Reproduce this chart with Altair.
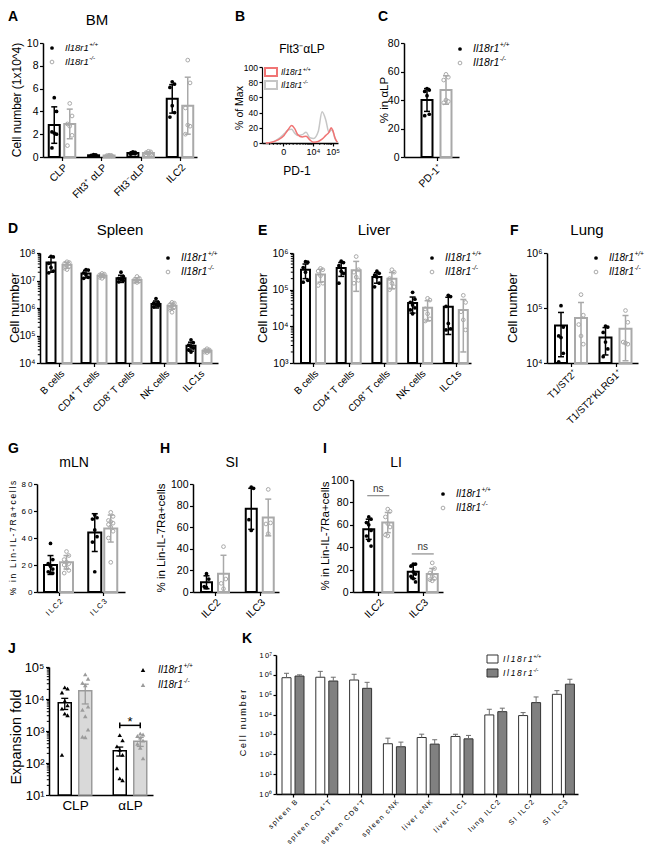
import json
import altair as alt
import pandas as pd

FONT = "Liberation Sans"
GREY = "#a9a9a9"
RED = "#f07474"
HGREY = "#c6c6c6"
THIN = "\u2009"
ONE = pd.DataFrame({"k": [0]})
WW, HH = 637, 840          # drawing size (page minus 8px margin)
M = 8                      # page margin
LOGLAB = "'10' + ['⁰','¹','²','³','⁴','⁵','⁶','⁷','⁸','⁹'][round(log(datum.value) / LN10)]"
LOGLAB_SP = "'1" + THIN + "0' + ['⁰','¹','²','³','⁴','⁵','⁶','⁷','⁸','⁹'][round(log(datum.value) / LN10)]"

# ---------------- data ----------------
# A  BM
A_cats = ["CLP", "Flt3⁺ αLP", "Flt3⁻αLP", "ILC2"]
A_wt_mean = [2.8, 0.15, 0.35, 5.1]
A_wt_sd = [1.6, 0.05, 0.1, 1.25]
A_ko_mean = [2.9, 0.13, 0.35, 4.5]
A_ko_sd = [1.3, 0.04, 0.12, 2.5]
A_wt_pts = [[5.2, 4.0, 2.2, 2.1, 2.0, 0.8], [0.2, 0.18, 0.15, 0.12, 0.1],
            [0.45, 0.4, 0.35, 0.3, 0.28, 0.25], [6.6, 6.4, 6.1, 4.5, 3.9, 3.5]]
A_ko_pts = [[4.7, 3.6, 2.9, 2.7, 1.9, 1.0], [0.15, 0.13, 0.12, 0.1, 0.1],
            [0.5, 0.45, 0.38, 0.3, 0.25, 0.2], [8.5, 6.5, 4.3, 2.8, 2.7, 2.0]]

# B  histogram (% of max vs PD-1, display units 0-100)
B_x = [5, 13, 21, 29, 34, 39, 43, 47, 53, 58, 63, 68, 74, 79, 84, 88, 91, 93, 96, 99]
B_wt = [0, 1, 4, 10, 17, 23, 19, 11, 8, 9, 4, 1, 2, 5, 10, 14, 20, 17, 7, 1]
B_ko = [0, 1, 5, 12, 17, 18, 13, 10, 11, 14, 7, 6, 15, 41, 30, 14, 17, 16, 6, 1]
B_tick_pos = [28, 67, 93]
B_tick_lab = ["0", "10⁴", "10⁵"]
B_minor = [10, 15, 20, 24, 32, 36, 41, 46, 50, 54, 57, 59.5, 61.5, 63, 64.5, 65.8, 76, 82, 85.5, 88, 90, 91.5]

# C
C_cats = ["PD-1⁺"]
C_wt_mean, C_wt_sd = [40], [8]
C_ko_mean, C_ko_sd = [47], [10]
C_wt_pts = [[48, 47, 46, 43, 30, 29]]
C_ko_pts = [[58, 56, 54, 40, 39, 38]]

# D  Spleen
D_cats = ["B cells", "CD4⁺ T cells", "CD8⁺ T cells", "NK cells", "ILC1s"]
D_wt_mean = [4.5e7, 1.8e7, 1.2e7, 1.4e6, 4.2e4]
D_wt_sd = [2.5e7, 0.55e7, 0.35e7, 0.4e6, 1.5e4]
D_ko_mean = [3.7e7, 1.5e7, 1.05e7, 1.2e6, 2.8e4]
D_ko_sd = [0.9e7, 0.2e7, 0.2e7, 0.3e6, 0.3e4]
D_wt_pts = [[7.6e7, 7.2e7, 4.2e7, 3.0e7, 2.2e7, 1.9e7], [2.5e7, 2.4e7, 1.9e7, 1.6e7, 1.3e7, 1.2e7],
            [2.0e7, 1.4e7, 1.2e7, 1.1e7, 1.0e7, 0.9e7], [2.2e6, 1.6e6, 1.5e6, 1.3e6, 1.2e6, 1.1e6],
            [7e4, 5.5e4, 4.5e4, 4e4, 3.5e4, 3e4, 2.5e4]]
D_ko_pts = [[4.8e7, 4.5e7, 4.2e7, 3.6e7, 3.2e7, 2.8e7, 2.5e7], [1.8e7, 1.7e7, 1.6e7, 1.5e7, 1.4e7, 1.3e7, 1.2e7],
            [1.4e7, 1.2e7, 1.1e7, 1.0e7, 0.95e7, 0.9e7, 0.85e7], [1.6e6, 1.5e6, 1.3e6, 1.2e6, 1.1e6, 0.9e6, 0.7e6],
            [3.3e4, 3.0e4, 2.9e4, 2.8e4, 2.7e4, 2.5e4, 2.4e4]]

# E  Liver
E_cats = ["B cells", "CD4⁺ T cells", "CD8⁺ T cells", "NK cells", "ILC1s"]
E_wt_mean = [3.5e5, 3.9e5, 2.2e5, 4.3e4, 3.4e4]
E_wt_sd = [1.5e5, 1.6e5, 0.7e5, 2.0e4, 2.8e4]
E_ko_mean = [2.6e5, 3.4e5, 2.0e5, 3.2e4, 2.8e4]
E_ko_sd = [1.0e5, 2.5e5, 0.95e5, 1.8e4, 2.6e4]
E_wt_pts = [[5.8e5, 5.6e5, 4.0e5, 3.0e5, 1.8e5, 1.6e5], [6e5, 5.5e5, 4.5e5, 3.2e5, 2.8e5, 1.5e5],
            [3.2e5, 2.8e5, 2.5e5, 2.2e5, 1.5e5, 1.2e5], [8.5e4, 5.5e4, 4.5e4, 3.8e4, 3.2e4, 2.8e4, 2.2e4],
            [7e4, 6.5e4, 3.5e4, 1.2e4, 8.5e3, 8e3]]
E_ko_pts = [[3.8e5, 3.5e5, 3.2e5, 2.4e5, 1.5e5, 1.3e5], [8e5, 3.5e5, 3e5, 2.2e5, 1.8e5, 1.5e5],
            [3.5e5, 3e5, 2e5, 1.5e5, 1.2e5, 1.0e5], [5.8e4, 5.2e4, 3e4, 2.2e4, 1.6e4, 1.4e4],
            [7e4, 4.5e4, 2.5e4, 1.5e4, 8e3]]

# F  Lung
F_cats = ["T1/ST2⁺", "T1/ST2⁺KLRG1⁺"]
F_wt_mean, F_wt_sd = [4.8e4, 2.9e4], [3.5e4, 1.5e4]
F_ko_mean, F_ko_sd = [6.6e4, 4.2e4], [6e4, 3.1e4]
F_wt_pts = [[1.1e5, 4.5e4, 3.1e4, 2.9e4, 1.5e4, 1.05e4], [4.7e4, 4.5e4, 3.6e4, 2.4e4, 1.8e4, 1.3e4]]
F_ko_pts = [[1.75e5, 7.4e4, 5e4, 3.1e4, 2.2e4], [9e4, 5.5e4, 2.4e4, 2.3e4, 2.2e4]]

# G  mLN
G_cats = ["ILC2", "ILC3"]
G_wt_mean, G_wt_sd = [20, 44], [7, 14]
G_ko_mean, G_ko_sd = [22, 47], [5, 10]
G_wt_pts = [[36, 24, 21, 19, 17, 15, 14, 14], [57, 55, 54, 46, 41, 37, 15]]
G_ko_pts = [[30, 27, 24, 22, 21, 20, 18, 16, 14], [59, 56, 53, 52, 51, 50, 48, 45, 40, 22]]

# H  SI
H_cats = ["ILC2", "ILC3"]
H_wt_mean, H_wt_sd = [9, 77], [6, 19]
H_ko_mean, H_ko_sd = [17, 69], [17, 17]
H_wt_pts = [[17, 12, 5, 4], [97, 96, 67, 57]]
H_ko_pts = [[42, 12, 8, 3], [95, 64, 63, 54]]

# I  LI
I_cats = ["ILC2", "ILC3"]
I_wt_mean, I_wt_sd = [56, 18], [9, 6]
I_ko_mean, I_ko_sd = [62, 16], [9, 5]
I_wt_pts = [[67, 65, 62, 60, 55, 50, 46, 41], [25, 25, 23, 18, 16, 14, 12, 9]]
I_ko_pts = [[74, 72, 67, 61, 58, 51, 50], [26, 21, 17, 14, 12, 11, 10]]
I_ns_y = [86, 34]

# J  Expansion fold
J_cats = ["CLP", "αLP"]
J_wt_mean, J_wt_sem = [7.6e3, 240], [2.9e3, 75]
J_ko_mean, J_ko_sem = [1.8e4, 480], [1.1e4, 150]
J_wt_pts = [[2.3e4, 2.1e4, 1.6e4, 8.7e3, 6.3e3, 5e3, 3.5e3, 3.1e3, 180], [740, 510, 330, 260, 180, 68, 33, 29]]
J_ko_pts = [[5.9e4, 4.3e4, 3.2e4, 2.7e4, 5.8e3, 4.6e3, 2.9e3, 1.1e3, 660, 640],
            [830, 780, 700, 620, 500, 400, 300, 140]]
J_sig_y = [1500]

# K
K_cats = ["spleen B", "spleen CD4⁺T", "spleen CD8⁺T", "spleen cNK", "liver cNK",
          "liver ILC1", "lung ILC2", "SI ILC2", "SI ILC3"]
K_wt_mean = [7.2e5, 7.6e5, 5.5e5, 340, 700, 790, 9.6e3, 8.9e3, 1.05e5]
K_wt_err = [4.8e5, 7.4e5, 5.2e5, 310, 330, 230, 8.9e3, 3.7e3, 5.5e4]
K_ko_mean = [8.7e5, 4.9e5, 2.1e5, 240, 325, 600, 1.4e4, 4e4, 3.4e5]
K_ko_err = [1.3e5, 2.7e5, 2.1e5, 170, 215, 290, 7e3, 3.7e4, 2.6e5]


# ---------------- helpers (coordinates given in page pixels) ----------------
def spaced(s):
    return THIN.join(list(s))


def T(x, y, s, size=11, bold=False, italic=False, angle=0, align="left",
      baseline="alphabetic", color="black"):
    kw = dict(text=s, fontSize=size, font=FONT, align=align, baseline=baseline, color=color)
    if bold:
        kw["fontWeight"] = "bold"
    if italic:
        kw["fontStyle"] = "italic"
    if angle:
        kw["angle"] = angle
    return alt.Chart(ONE).mark_text(**kw).encode(x=alt.value(x - M), y=alt.value(y - M))


def R(x1, x2, y1, y2, fill, stroke, sw):
    return (alt.Chart(ONE).mark_rect(fill=fill, stroke=stroke, strokeWidth=sw)
            .encode(x=alt.value(x1 - M), x2=alt.value(x2 - M), y=alt.value(y1 - M), y2=alt.value(y2 - M)))


def axis(**kw):
    base = dict(title=None, grid=False, domainColor="black", domainWidth=1.5,
                tickColor="black", tickWidth=1.2, tickSize=3.5, labelFont=FONT,
                labelColor="black", labelPadding=1.5, labelOverlap=False, labelFlush=False)
    base.update(kw)
    return alt.Axis(**base)


def geno_label(x, y, sup, size, sp=False):
    main = "Il18r1"
    w = 2.501 * size
    if sp:
        main = spaced(main)
        w += 5 * 0.2 * size
    return [T(x, y, main, size, italic=True, baseline="middle"),
            T(x + w + 0.4, y - size * 0.4, sup, size * 0.65, italic=True, baseline="middle")]


def marker_legend(x, y, dy, size, shape="circle", msize=14, ko_filled=False, gap=13, ko_col=GREY):
    out = [alt.Chart(ONE).mark_point(shape=shape, filled=True, size=msize, color="black", opacity=1)
           .encode(x=alt.value(x - M), y=alt.value(y - M)),
           alt.Chart(ONE).mark_point(shape=shape, filled=ko_filled, size=msize, color=ko_col,
                                     strokeWidth=1, opacity=1)
           .encode(x=alt.value(x - M), y=alt.value(y + dy - M))]
    out += geno_label(x + gap, y, "+/+", size)
    out += geno_label(x + gap, y + dy, "-/-", size)
    return out


def cat_expr(cats, sp=False):
    e = f"{json.dumps(cats, ensure_ascii=False)}[datum.value]"
    if sp:
        e = f"join(split({e}, ''), '{THIN}')"
    return e


def bar_panel(cats, wm, ws, km, ks, wp=None, kp=None, *, x0, y0, w, h, c0, u, bw, off,
              ydom, ylog, yvals, ylab_size=10.5, xlab_size=10.5, ylab_expr=None,
              xlab_sp=False, xangle=-45, minor=None,
              psize=14, jit=2.3, cap=3.0, shape="circle", ko_filled=False,
              wt_fill=None, ko_fill=None, wt_col="black", ko_col=GREY, bar_sw=2.0,
              err_sw=1.5, err_cols=None, upper_only=False, tick_size=3.5, xlab_pad=1.5,
              xtick=True):
    n = len(cats)
    bars = pd.DataFrame([dict(ci=i, g=g, m=(wm if g == 0 else km)[i], s=(ws if g == 0 else ks)[i])
                         for i in range(n) for g in (0, 1)])
    OFF, HB, CP, JT = off / u, bw / u / 2, cap / u, jit / u
    left, right, top, bottom = x0 - M, x0 + w - M, y0 - M, y0 + h - M
    xs = alt.Scale(domain=[-c0 / u, (w - c0) / u], range=[left, right], nice=False, zero=False)
    if ylog:
        ys = alt.Scale(type="log", domain=ydom, range=[bottom, top], nice=False)
    else:
        ys = alt.Scale(domain=ydom, range=[bottom, top], nice=False, zero=False)
    xkw = dict(orient="bottom", offset=bottom - HH, values=list(range(n)),
               labelExpr=cat_expr(cats, xlab_sp), labelFontSize=xlab_size,
               tickSize=tick_size if xtick else 0, labelPadding=xlab_pad)
    if xangle:
        xkw.update(labelAngle=xangle, labelAlign="right", labelBaseline="top")
    else:
        xkw.update(labelAngle=0, labelAlign="center", labelBaseline="top")
    xax = axis(**xkw)
    ykw = dict(orient="left", offset=-left, values=yvals, labelFontSize=ylab_size, tickSize=tick_size)
    if ylab_expr:
        ykw["labelExpr"] = ylab_expr
    elif ylog:
        ykw["labelExpr"] = LOGLAB
    yax = axis(**ykw)

    def X(f):
        return alt.X(f, scale=xs, axis=xax)

    def Y(f):
        return alt.Y(f, scale=ys, axis=yax)

    base = alt.Chart(bars).transform_calculate(
        pos=f"datum.ci + (datum.g * 2 - 1) * {OFF}"
    ).transform_calculate(
        xl=f"datum.pos - {HB}", xr=f"datum.pos + {HB}",
        cl=f"datum.pos - {CP}", cr=f"datum.pos + {CP}",
        hi="datum.m + datum.s", lo=f"max(datum.m - datum.s, {ydom[0]})", b0=f"{ydom[0]}")
    layers = []
    for g in (0, 1):
        col = wt_col if g == 0 else ko_col
        fill = wt_fill if g == 0 else ko_fill
        mk = dict(stroke=col, strokeWidth=bar_sw)
        if fill:
            mk["fill"] = fill
        else:
            mk["fillOpacity"] = 0
        bb = base.transform_filter(f"datum.g == {g}")
        layers.append(bb.mark_rect(**mk).encode(x=X("xl:Q"), x2="xr:Q", y=Y("m:Q"), y2="b0:Q"))
    for g in (0, 1):
        ecol = (err_cols or (wt_col, ko_col))[g]
        bb = base.transform_filter(f"datum.g == {g}")
        layers.append(bb.mark_rule(color=ecol, strokeWidth=err_sw)
                      .encode(x=X("pos:Q"), y=Y("m:Q" if upper_only else "lo:Q"), y2="hi:Q"))
        layers.append(bb.mark_rule(color=ecol, strokeWidth=err_sw)
                      .encode(x=X("cl:Q"), x2="cr:Q", y=Y("hi:Q")))
        if not upper_only:
            layers.append(bb.mark_rule(color=ecol, strokeWidth=err_sw)
                          .encode(x=X("cl:Q"), x2="cr:Q", y=Y("lo:Q")))
    if wp is not None:
        pts = pd.DataFrame([dict(ci=i, g=g, v=v) for i in range(n) for g in (0, 1)
                            for v in (wp if g == 0 else kp)[i]])
        for g in (0, 1):
            col = wt_col if g == 0 else ko_col
            pp = (alt.Chart(pts).transform_filter(f"datum.g == {g}")
                  .transform_window(r="row_number()", groupby=["ci"],
                                    sort=[alt.SortField("v", order="descending")])
                  .transform_calculate(px=f"datum.ci + (datum.g * 2 - 1) * {OFF} + ((datum.r % 3) - 1) * {JT}"))
            layers.append(pp.mark_point(shape=shape, filled=(g == 0) or ko_filled, color=col,
                                        size=psize, strokeWidth=1, opacity=1)
                          .encode(x=X("px:Q"), y=Y("v:Q")))
    if minor:
        mdf = pd.DataFrame({"v": minor})
        layers.append(alt.Chart(mdf).mark_rule(color="black", strokeWidth=1)
                      .encode(x=alt.value(left - 2.2), x2=alt.value(left), y=Y("v:Q")))
    return dict(layers=layers, X=X, Y=Y, OFF=OFF, u=u)


def log_minor(k0, k1):
    return [m * 10 ** k for k in range(k0, k1) for m in range(2, 10)]


def decades(k0, k1):
    return [10 ** k for k in range(k0, k1 + 1)]


# ---------------- panels ----------------
# A
pA = bar_panel(A_cats, A_wt_mean, A_wt_sd, A_ko_mean, A_ko_sd, A_wt_pts, A_ko_pts,
               x0=43, y0=43, w=154, h=114, c0=19, u=39.33, bw=11, off=7.75, ydom=[0, 10], ylog=False,
               yvals=[0, 2, 4, 6, 8, 10], ylab_size=10.5, xlab_size=10.5)
A = alt.layer(*pA["layers"], T(8, 21, "A", 14, bold=True), T(97, 25, "BM", 15, align="center"),
              T(17, 100, "Cell number (1x10^4)", 12, angle=270, align="center", baseline="middle"),
              *marker_legend(52, 48, 14, 9.5))

# B
bdf = pd.DataFrame({"x": B_x * 2, "y": B_ko + B_wt,
                    "g": [1] * len(B_x) + [0] * len(B_x)})
bx0, by0, bw_, bh_ = 262, 67, 76, 76
bxs = alt.Scale(domain=[0, 100], range=[bx0 - M, bx0 + bw_ - M], nice=False, zero=False)
bys = alt.Scale(domain=[0, 100], range=[by0 + bh_ - M, by0 - M], nice=False, zero=False)
bxax = axis(orient="bottom", offset=by0 + bh_ - M - HH, values=B_tick_pos, labelFontSize=9,
            labelAngle=0, tickSize=3,
            labelExpr=f"{json.dumps(B_tick_lab, ensure_ascii=False)}[indexof({json.dumps(B_tick_pos)}, datum.value)]")
byax = axis(orient="left", offset=-(bx0 - M), values=[0, 20, 40, 60, 80, 100], labelFontSize=8.5,
            tickSize=3, domainWidth=1.2)
B = alt.layer(
    alt.Chart(bdf).transform_filter("datum.g == 1")
    .mark_line(color=HGREY, strokeWidth=1.5, interpolate="monotone")
    .encode(x=alt.X("x:Q", scale=bxs, axis=bxax), y=alt.Y("y:Q", scale=bys, axis=byax)),
    alt.Chart(bdf).transform_filter("datum.g == 0")
    .mark_line(color=RED, strokeWidth=1.5, interpolate="monotone")
    .encode(x=alt.X("x:Q", scale=bxs, axis=bxax), y=alt.Y("y:Q", scale=bys, axis=byax)),
    alt.Chart(pd.DataFrame({"v": B_minor})).mark_rule(color="black", strokeWidth=0.8)
    .encode(x=alt.X("v:Q", scale=bxs, axis=bxax), y=alt.value(by0 + bh_ - M), y2=alt.value(by0 + bh_ - M + 2)),
    R(265, 277, 68, 76, "white", RED, 2),
    R(265, 277, 81, 89, "white", HGREY, 2),
    T(235, 21, "B", 14, bold=True),
    T(302, 53, "Flt3⁻αLP", 12, align="center"),
    T(240, 108, "% of Max", 10.5, angle=270, align="center", baseline="middle"),
    T(297, 175, "PD-1", 12, align="center"),
    *geno_label(281, 72, "+/+", 8.5), *geno_label(281, 85, "-/-", 8.5),
)

# C
pC = bar_panel(C_cats, C_wt_mean, C_wt_sd, C_ko_mean, C_ko_sd, C_wt_pts, C_ko_pts,
               x0=404, y0=43, w=55, h=114, c0=32.5, u=40, bw=11, off=9.5, ydom=[0, 80], ylog=False,
               yvals=[0, 20, 40, 60, 80], ylab_size=10.5, xlab_size=10.5)
C = alt.layer(*pC["layers"], T(378, 21, "C", 14, bold=True),
              T(385, 100, "% in αLP", 11.5, angle=270, align="center", baseline="middle"),
              *marker_legend(460, 49, 14, 10.5))

# D
pD = bar_panel(D_cats, D_wt_mean, D_wt_sd, D_ko_mean, D_ko_sd, D_wt_pts, D_ko_pts,
               x0=40, y0=253, w=178, h=110, c0=19, u=35, bw=9, off=8, ydom=[1e4, 1e8], ylog=True,
               yvals=decades(4, 8), minor=log_minor(4, 8), xlab_size=10)
D = alt.layer(*pD["layers"], T(8, 233, "D", 14, bold=True), T(120, 235, "Spleen", 15, align="center"),
              T(15, 308, "Cell number", 13, angle=270, align="center", baseline="middle"),
              *marker_legend(168, 258, 14, 10.5))

# E
pE = bar_panel(E_cats, E_wt_mean, E_wt_sd, E_ko_mean, E_ko_sd, E_wt_pts, E_ko_pts,
               x0=293, y0=253, w=178, h=110, c0=20, u=35.7, bw=9, off=7.5, ydom=[1e3, 1e6], ylog=True,
               yvals=decades(3, 6), minor=log_minor(3, 6), xlab_size=10)
E = alt.layer(*pE["layers"], T(258, 235, "E", 14, bold=True), T(374, 235, "Liver", 15, align="center"),
              T(263, 308, "Cell number", 13, angle=270, align="center", baseline="middle"),
              *marker_legend(432, 258, 14, 10.5))

# F
pF = bar_panel(F_cats, F_wt_mean, F_wt_sd, F_ko_mean, F_ko_sd, F_wt_pts, F_ko_pts,
               x0=547, y0=253, w=91, h=110, c0=24, u=44.5, bw=12, off=10, ydom=[1e4, 1e6], ylog=True,
               yvals=decades(4, 6), xlab_size=10)
F = alt.layer(*pF["layers"], T(510, 235, "F", 14, bold=True), T(587, 235, "Lung", 15, align="center"),
              T(513, 308, "Cell number", 13, angle=270, align="center", baseline="middle"),
              *marker_legend(596, 258, 14, 10))

# G
pG = bar_panel(G_cats, G_wt_mean, G_wt_sd, G_ko_mean, G_ko_sd, G_wt_pts, G_ko_pts,
               x0=37, y0=484, w=88, h=108, c0=21.5, u=44.25, bw=13, off=8, ydom=[0, 80], ylog=False,
               yvals=[0, 20, 40, 60, 80], ylab_size=8, xlab_size=7.5, xlab_sp=True,
               ylab_expr="join(split(datum.label, ''), ' ')")
G = alt.layer(*pG["layers"], T(8, 453, "G", 14, bold=True), T(74, 467, "mLN", 14, align="center"),
              T(13, 538, spaced("% in Lin-IL-7Ra+cells"), 8.5, angle=270, align="center", baseline="middle"))

# H
pH = bar_panel(H_cats, H_wt_mean, H_wt_sd, H_ko_mean, H_ko_sd, H_wt_pts, H_ko_pts,
               x0=193, y0=484, w=86, h=108, c0=22, u=44.75, bw=11, off=8.5, ydom=[0, 100], ylog=False,
               yvals=[0, 20, 40, 60, 80, 100], ylab_size=10.5, xlab_size=10.5)
H = alt.layer(*pH["layers"], T(160, 453, "H", 14, bold=True), T(232, 467, "SI", 14, align="center"),
              T(162, 538, "% in Lin-IL-7Ra+cells", 11.5, angle=270, align="center", baseline="middle"))

# I
pI = bar_panel(I_cats, I_wt_mean, I_wt_sd, I_ko_mean, I_ko_sd, I_wt_pts, I_ko_pts,
               x0=353, y0=480, w=90, h=112, c0=25.25, u=44.5, bw=11, off=9.5, ydom=[0, 100], ylog=False,
               yvals=[0, 20, 40, 60, 80, 100], ylab_size=10.5, xlab_size=10.5)
nsdf = pd.DataFrame({"ci": list(range(len(I_ns_y))), "y": I_ns_y})
NSW = 11 / pI["u"]
I = alt.layer(
    *pI["layers"],
    alt.Chart(nsdf).transform_calculate(a=f"datum.ci - {NSW}", b=f"datum.ci + {NSW}")
    .mark_rule(color="#8c8c8c", strokeWidth=1.2).encode(x=pI["X"]("a:Q"), x2="b:Q", y=pI["Y"]("y:Q")),
    alt.Chart(nsdf).mark_text(text="ns", fontSize=10, font=FONT, color="#333333", align="center",
                              baseline="alphabetic", dy=-4)
    .encode(x=pI["X"]("ci:Q"), y=pI["Y"]("y:Q")),
    T(323, 453, "I", 14, bold=True), T(396, 467, "LI", 14, align="center"),
    T(326, 536, "% in Lin-IL-7Ra+cells", 11.5, angle=270, align="center", baseline="middle"),
    *marker_legend(443, 494, 14, 10))

# J
pJ = bar_panel(J_cats, J_wt_mean, J_wt_sem, J_ko_mean, J_ko_sem, J_wt_pts, J_ko_pts,
               x0=49, y0=667, w=104, h=128, c0=26, u=55, bw=13, off=10.25, ydom=[10, 1e5], ylog=True,
               yvals=decades(1, 5), minor=log_minor(1, 5), ylab_size=13, xlab_size=13.5,
               xangle=0, psize=20, jit=2.8, cap=3.5, shape="triangle-up",
               ko_filled=True, wt_fill="white", ko_fill="#d9d9d9", wt_col="black",
               ko_col="#9b9b9b", bar_sw=1.5, err_sw=1.3, xlab_pad=3, xtick=False)
sigdf = pd.DataFrame({"ci": [1] * len(J_sig_y), "y": J_sig_y})
JO = pJ["OFF"]
J = alt.layer(
    *pJ["layers"],
    alt.Chart(sigdf).transform_calculate(a=f"datum.ci - {JO}", b=f"datum.ci + {JO}")
    .mark_rule(color="black", strokeWidth=1.5).encode(x=pJ["X"]("a:Q"), x2="b:Q", y=pJ["Y"]("y:Q")),
    alt.Chart(sigdf).transform_calculate(a=f"datum.ci - {JO}", y1="datum.y / 1.22", y2="datum.y * 1.22")
    .mark_rule(color="black", strokeWidth=1.5).encode(x=pJ["X"]("a:Q"), y=pJ["Y"]("y1:Q"), y2="y2:Q"),
    alt.Chart(sigdf).transform_calculate(b=f"datum.ci + {JO}", y1="datum.y / 1.22", y2="datum.y * 1.22")
    .mark_rule(color="black", strokeWidth=1.5).encode(x=pJ["X"]("b:Q"), y=pJ["Y"]("y1:Q"), y2="y2:Q"),
    alt.Chart(sigdf).mark_text(text="*", fontSize=13, font=FONT, color="black", align="center",
                               baseline="alphabetic", dy=1)
    .encode(x=pJ["X"]("ci:Q"), y=pJ["Y"]("y:Q")),
    T(8, 653, "J", 14, bold=True),
    T(16.5, 737, "Expansion fold", 14.5, angle=270, align="center", baseline="middle"),
    *marker_legend(143, 670, 15, 10, shape="triangle-up", msize=20, ko_filled=True, gap=15,
                   ko_col="#9b9b9b"))

# K
pK = bar_panel(K_cats, K_wt_mean, K_wt_err, K_ko_mean, K_ko_err, None, None,
               x0=276, y0=655, w=302, h=139, c0=17, u=33.8, bw=9, off=6.5, ydom=[1, 1e7], ylog=True,
               yvals=decades(0, 7), ylab_size=7.5, ylab_expr=LOGLAB_SP, xlab_size=7.1, xlab_sp=True,
               wt_fill="white", ko_fill="#808080", wt_col="#333333", ko_col="#333333",
               bar_sw=1, err_sw=1, err_cols=("#6e6e6e", "#6e6e6e"), cap=2.5, upper_only=True,
               tick_size=3, xlab_pad=1)
K = alt.layer(
    *pK["layers"],
    T(242, 643, "K", 14, bold=True),
    T(243, 723, spaced("Cell number"), 9, angle=270, align="center", baseline="middle"),
    R(487, 498, 655, 663, "white", "#333333", 1),
    R(487, 498, 669, 677, "#808080", "#333333", 1),
    *geno_label(503, 659, "+/+", 8.5, sp=True), *geno_label(503, 673, "-/-", 8.5, sp=True))

chart = (alt.layer(A, B, C, D, E, F, G, H, I, J, K)
         .resolve_scale(x="independent", y="independent")
         .properties(width=WW, height=HH, padding=0, autosize=alt.AutoSizeParams(type="none"))
         .configure(font=FONT)
         .configure_view(strokeWidth=0))

chart.save("out.html", embed_options={"renderer": "svg", "actions": False})
